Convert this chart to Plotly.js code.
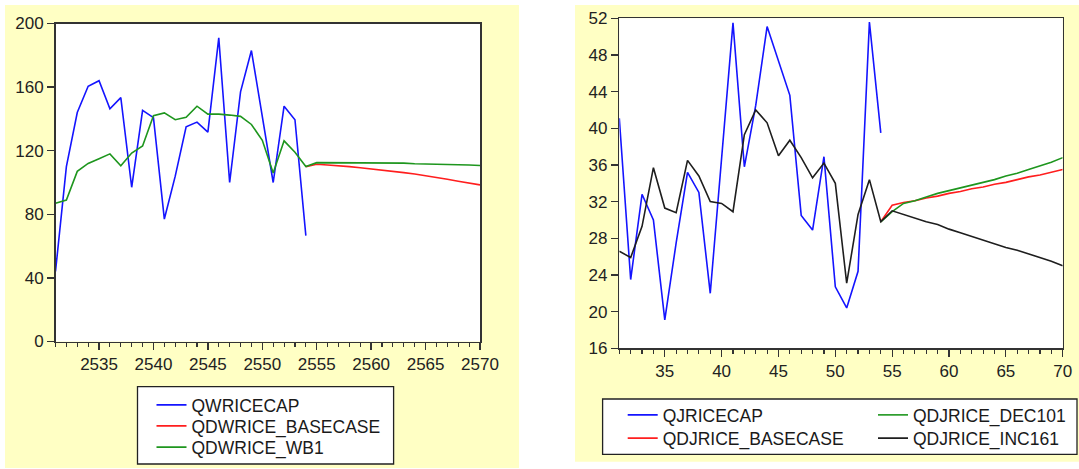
<!DOCTYPE html>
<html>
<head>
<meta charset="utf-8">
<script src="https://cdn.plot.ly/plotly-3.0.1.min.js"></script>
<style>html,body{margin:0;padding:0;background:#fff;}#chart{width:1079px;height:469px;}</style>
</head>
<body>
<div id="chart"></div>
<script>
// ---- Left panel data (years 2531-2570) ----
const leftHistYears = [2531,2532,2533,2534,2535,2536,2537,2538,2539,2540,2541,2542,2543,2544,2545,2546,2547,2548,2549,2550,2551,2552,2553,2554];
const leftAllYears = [2531,2532,2533,2534,2535,2536,2537,2538,2539,2540,2541,2542,2543,2544,2545,2546,2547,2548,2549,2550,2551,2552,2553,2554,2555,2556,2557,2558,2559,2560,2561,2562,2563,2564,2565,2566,2567,2568,2569,2570];
const leftFcYears = [2554,2555,2556,2557,2558,2559,2560,2561,2562,2563,2564,2565,2566,2567,2568,2569,2570];
const qwricecap = [44,110,144,160.5,164,146.4,153.4,97,145.4,140.8,77,104,135,138,131.7,191,100,157,183,140,100,148,139.5,66.6];
const qdwriceBasecase = [110,111.5,111,110.6,110,109.3,108.6,107.8,107,106.2,105.3,104.3,103.2,102,100.8,99.7,98.5];
const qdwriceWb1 = [87,89,107,112,115,118,110.5,118.5,123,142,143.8,139.5,141,148,143,143,142.4,141.6,136.5,126.5,106,126.2,119,110,112.5,112.5,112.5,112.4,112.4,112.4,112.3,112.3,112.2,111.8,111.7,111.7,111.6,111.5,111,110.7];
const leftNames = ['QWRICECAP','QDWRICE_BASECASE','QDWRICE_WB1'];

// ---- Right panel data (years 31-70) ----
const rightHistYears = [31,32,33,34,35,36,37,38,39,40,41,42,43,44,45,46,47,48,49,50,51,52,53,54];
const rightAllYears = [31,32,33,34,35,36,37,38,39,40,41,42,43,44,45,46,47,48,49,50,51,52,53,54,55,56,57,58,59,60,61,62,63,64,65,66,67,68,69,70];
const rightFcYears = [54,55,56,57,58,59,60,61,62,63,64,65,66,67,68,69,70];
const qjricecap = [41.1,23.5,32.8,30.0,19.1,27.5,35.2,33.0,22.0,36.5,51.5,35.8,42.5,51.1,47.3,43.6,30.5,28.9,36.9,22.7,20.4,24.4,51.6,39.5];
const qdjriceBasecase = [29.8,31.6,31.9,32.1,32.4,32.6,32.9,33.1,33.4,33.6,33.9,34.1,34.4,34.7,34.9,35.2,35.5];
const qdjriceDec101 = [29.8,30.9,31.8,32.1,32.5,32.9,33.2,33.5,33.8,34.1,34.4,34.8,35.1,35.5,35.9,36.3,36.8];
const qdjriceInc161 = [26.6,25.9,29.3,35.7,31.3,30.8,36.5,34.8,32,31.8,30.9,39.3,42,40.6,37,38.7,36.8,34.6,36.2,34,23.1,30.6,34.4,29.8,31,30.6,30.2,29.8,29.5,29.0,28.6,28.2,27.8,27.4,27.0,26.7,26.3,25.9,25.5,25.0];
const rightNames = ['QJRICECAP','QDJRICE_BASECASE','QDJRICE_DEC101','QDJRICE_INC161'];

const W = 1079, H = 469;
const BLUE = '#1414ff', RED = '#ff1e1e', GREEN = '#1e961e', BLACK = '#1e1e1e';
const LW = 1.6;
const FONT = 'Liberation Sans, Arial, sans-serif';

function px(x){return x/W;}
function py(y){return 1 - y/H;}

const traces = [
  {x: leftHistYears, y: qwricecap, name: leftNames[0], type:'scatter', mode:'lines', line:{color:BLUE, width:LW}, xaxis:'x', yaxis:'y', legend:'legend'},
  {x: leftFcYears, y: qdwriceBasecase, name: leftNames[1], type:'scatter', mode:'lines', line:{color:RED, width:LW}, xaxis:'x', yaxis:'y', legend:'legend2'},
  {x: leftAllYears, y: qdwriceWb1, name: leftNames[2], type:'scatter', mode:'lines', line:{color:GREEN, width:LW}, xaxis:'x', yaxis:'y', legend:'legend3'},
  {x: rightHistYears, y: qjricecap, name: rightNames[0], type:'scatter', mode:'lines', line:{color:BLUE, width:LW}, xaxis:'x2', yaxis:'y2', legend:'legend4'},
  {x: rightFcYears, y: qdjriceBasecase, name: rightNames[1], type:'scatter', mode:'lines', line:{color:RED, width:LW}, xaxis:'x2', yaxis:'y2', legend:'legend5'},
  {x: rightFcYears, y: qdjriceDec101, name: rightNames[2], type:'scatter', mode:'lines', line:{color:GREEN, width:LW}, xaxis:'x2', yaxis:'y2', legend:'legend6'},
  {x: rightAllYears, y: qdjriceInc161, name: rightNames[3], type:'scatter', mode:'lines', line:{color:BLACK, width:LW}, xaxis:'x2', yaxis:'y2', legend:'legend7'}
];

const tickFont = {family: FONT, size: 17, color: '#222'};
const legFont = {family: FONT, size: 17.5, color: '#1a1a1a'};
function leg(x, y){
  return {x: px(x), y: py(y), xanchor:'left', yanchor:'middle', bgcolor:'rgba(0,0,0,0)', borderwidth:0, font: legFont, orientation:'v'};
}
function xax(domain, range, tick0, anchor){
  return {domain: domain, range: range, anchor: anchor, tickmode:'linear', tick0: tick0, dtick:5,
    ticks:'outside', ticklen:7, tickwidth:1.3, tickcolor:'#333', showline:true, linecolor:'#333', linewidth:1.5, mirror:true,
    showgrid:false, zeroline:false, tickfont: tickFont, fixedrange:true,
    minor:{dtick:1, ticks:'outside', ticklen:4, tickwidth:1.1, tickcolor:'#333', showgrid:false}};
}
function yax(domain, range, dtick, anchor){
  return {domain: domain, range: range, anchor: anchor, tickmode:'linear', tick0: range[0], dtick: dtick,
    ticks:'outside', ticklen:7, tickwidth:1.3, tickcolor:'#333', showline:true, linecolor:'#333', linewidth:1.5, mirror:true,
    showgrid:false, zeroline:false, tickfont: tickFont, fixedrange:true};
}

const layout = {
  width: W, height: H,
  margin: {l:0, r:0, t:0, b:0, pad:0},
  paper_bgcolor: '#ffffff', plot_bgcolor: '#ffffff',
  showlegend: true,
  xaxis: xax([px(55.5), px(480)], [2531, 2570], 2535, 'y'),
  yaxis: yax([py(341.5), py(23.5)], [0, 200], 40, 'x'),
  xaxis2: xax([px(619.3), px(1062.7)], [31, 70], 35, 'y2'),
  yaxis2: yax([py(348.3), py(18.3)], [16, 52], 4, 'x2'),
  legend: leg(151.5, 405),
  legend2: leg(151.5, 426),
  legend3: leg(151.5, 447.3),
  legend4: leg(622.7, 415),
  legend5: leg(622.7, 438.3),
  legend6: leg(873, 415),
  legend7: leg(873, 438.3),
  shapes: [
    {type:'rect', xref:'paper', yref:'paper', x0:px(5), x1:px(519), y0:py(468), y1:py(5), fillcolor:'#ffffc4', line:{width:0}, layer:'below'},
    {type:'rect', xref:'paper', yref:'paper', x0:px(575), x1:1, y0:py(461.7), y1:py(5), fillcolor:'#ffffc4', line:{width:0}, layer:'below'},
    {type:'rect', xref:'x domain', yref:'y domain', x0:0, x1:1, y0:0, y1:1, fillcolor:'#ffffff', line:{width:0}, layer:'below'},
    {type:'rect', xref:'x2 domain', yref:'y2 domain', x0:0, x1:1, y0:0, y1:1, fillcolor:'#ffffff', line:{width:0}, layer:'below'},
    {type:'rect', xref:'paper', yref:'paper', x0:px(137.5), x1:px(393.6), y0:py(464), y1:py(386.7), fillcolor:'#ffffff', line:{width:1.3, color:'#222'}, layer:'below'},
    {type:'rect', xref:'paper', yref:'paper', x0:px(602.6), x1:px(1077), y0:py(454.3), y1:py(399), fillcolor:'#ffffff', line:{width:1.3, color:'#222'}, layer:'below'}
  ]
};

Plotly.newPlot('chart', traces, layout, {displayModeBar:false, staticPlot:true});
</script>
</body>
</html>
